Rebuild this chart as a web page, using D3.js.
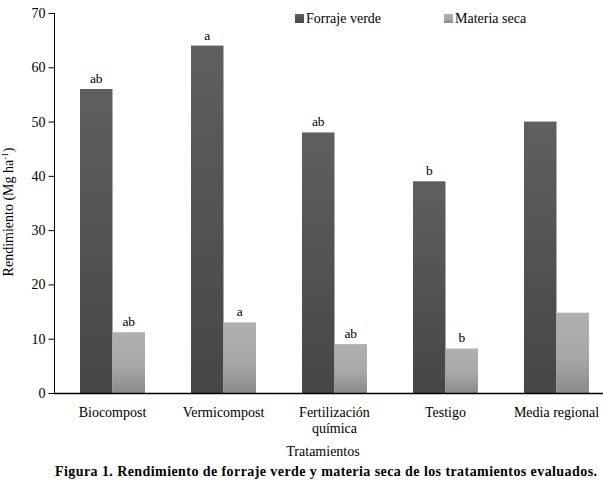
<!DOCTYPE html>
<html><head><meta charset="utf-8">
<script src="https://cdn.jsdelivr.net/npm/d3@7"></script>
<style>
html,body{margin:0;padding:0;background:#fff;}
svg text{font-family:"Liberation Serif","Times New Roman",serif;fill:#000;}
</style></head>
<body>
<svg id="c" width="603" height="482"></svg>
<script>
const categories = ["Biocompost","Vermicompost","Fertilización\nquímica","Testigo","Media regional"];
const forrajeVerde = [56, 64, 48, 39, 50];
const materiaSeca = [11.2, 13, 9, 8.2, 14.8];
const letrasFV = ["ab","a","ab","b",""];
const letrasMS = ["ab","a","ab","b",""];
const seriesNames = ["Forraje verde","Materia seca"];
const yTicks = [0,10,20,30,40,50,60,70];

const svg = d3.select("#c");
const defs = svg.append("defs");
const g1 = defs.append("linearGradient").attr("id","gDark").attr("x1",0).attr("y1",0).attr("x2",0).attr("y2",1);
g1.append("stop").attr("offset","0%").attr("stop-color","#5f5f5f");
g1.append("stop").attr("offset","100%").attr("stop-color","#464646");
const g2 = defs.append("linearGradient").attr("id","gLight").attr("x1",0).attr("y1",0).attr("x2",0).attr("y2",1);
g2.append("stop").attr("offset","0%").attr("stop-color","#b0b0b0");
g2.append("stop").attr("offset","55%").attr("stop-color","#a8a8a8");
g2.append("stop").attr("offset","100%").attr("stop-color","#8a8a8a");

const y = d3.scaleLinear().domain([0,70]).range([393,13]);
const x = d3.scaleBand().domain(categories).range([57,612]).paddingInner(0).paddingOuter(0);
const barW = 32.5;

// bars
categories.forEach((c,i)=>{
  const cx = x(c) + x.bandwidth()/2;
  svg.append("rect").attr("x", cx - barW).attr("y", y(forrajeVerde[i]))
    .attr("width", barW).attr("height", y(0)-y(forrajeVerde[i])).attr("fill","url(#gDark)");
  svg.append("rect").attr("x", cx).attr("y", y(materiaSeca[i]))
    .attr("width", barW).attr("height", y(0)-y(materiaSeca[i])).attr("fill","url(#gLight)");
  if (letrasFV[i]) svg.append("text").attr("x", cx - barW/2).attr("y", y(forrajeVerde[i]) - 6)
    .attr("text-anchor","middle").attr("font-size",13.5).text(letrasFV[i]);
  if (letrasMS[i]) svg.append("text").attr("x", cx + barW/2).attr("y", y(materiaSeca[i]) - 6)
    .attr("text-anchor","middle").attr("font-size",13.5).text(letrasMS[i]);
});

// y axis
const yAxis = svg.append("g").attr("transform","translate(54.5,0)")
  .call(d3.axisLeft(y).tickValues(yTicks).tickSize(6).tickPadding(3).tickFormat(d3.format("d")));
yAxis.select(".domain").attr("stroke","#000").attr("d","M0,13V393");
yAxis.selectAll(".tick line").attr("stroke","#000");
yAxis.selectAll(".tick text").attr("font-size",14).attr("font-family","Liberation Serif, serif");

// x axis line
svg.append("line").attr("x1",54).attr("x2",603).attr("y1",393.5).attr("y2",393.5).attr("stroke","#000").attr("stroke-width",1.4);

// category labels
categories.forEach(c=>{
  const cx = x(c) + x.bandwidth()/2;
  const lines = c.split("\n");
  const t = svg.append("text").attr("x", cx).attr("y", 417).attr("text-anchor","middle").attr("font-size",14);
  lines.forEach((l,k)=> t.append("tspan").attr("x", cx).attr("dy", k===0?0:16).text(l));
});

// axis titles
svg.append("text").attr("x",323).attr("y",456).attr("text-anchor","middle").attr("font-size",14).text("Tratamientos");
const yl = svg.append("text").attr("transform","translate(13,212) rotate(-90)").attr("text-anchor","middle").attr("font-size",14);
yl.append("tspan").text("Rendimiento (Mg ha");
yl.append("tspan").attr("dy",-5).attr("font-size",9).text("-1");
yl.append("tspan").attr("dy",5).text(")");

// legend
const legend = [[295,"url(#gDark)",seriesNames[0]],[444,"url(#gLight)",seriesNames[1]]];
legend.forEach(([lx,f,name])=>{
  svg.append("rect").attr("x",lx).attr("y",14).attr("width",9).attr("height",9).attr("fill",f);
  svg.append("text").attr("x",lx+11).attr("y",23).attr("font-size",14).text(name);
});

// caption
svg.append("text").attr("x",55).attr("y",476).attr("font-size",14).attr("font-weight","bold")
  .attr("textLength",542).attr("lengthAdjust","spacing")
  .text("Figura 1. Rendimiento de forraje verde y materia seca de los tratamientos evaluados.");
</script>
</body></html>
